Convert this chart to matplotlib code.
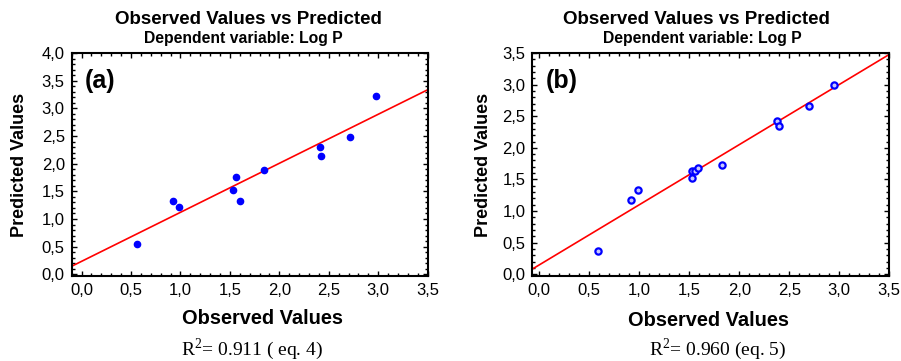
import numpy as np
import matplotlib
matplotlib.use("Agg")
import matplotlib.pyplot as plt
from matplotlib.ticker import MultipleLocator, FuncFormatter

plt.rcParams["font.family"] = ["Liberation Sans", "DejaVu Sans"]
plt.rcParams["mathtext.fontset"] = "custom"
plt.rcParams["mathtext.rm"] = "Liberation Serif"

# panel (a): observed vs predicted, eq. 4
obs_a = [0.56, 0.92, 0.98, 1.53, 1.56, 1.60, 1.84, 2.41, 2.42, 2.71, 2.98]
pred_a = [0.55, 1.33, 1.21, 1.53, 1.76, 1.33, 1.88, 2.31, 2.14, 2.48, 3.23]
fit_a = (0.235, 0.886)  # intercept, slope

# panel (b): observed vs predicted, eq. 5
obs_b = [0.59, 0.92, 0.99, 1.53, 1.53, 1.56, 1.59, 1.83, 2.38, 2.40, 2.70, 2.95]
pred_b = [0.37, 1.18, 1.33, 1.64, 1.52, 1.64, 1.68, 1.73, 2.43, 2.35, 2.66, 3.00]
fit_b = (0.149, 0.951)

panel_tags = ["(a)", "(b)"]
r2_texts = [r"R$^{\mathrm{2}}$= 0.911 ( eq. 4)", r"R$^{\mathrm{2}}$= 0.960 (eq. 5)"]
title = "Observed Values vs Predicted"
subtitle = "Dependent variable: Log P"

W, H = 901, 361
fig = plt.figure(figsize=(W / 100, H / 100), dpi=100)


def px(x, y):
    return x / W, 1 - y / H


def comma_fmt(v, pos):
    return f"{v:.1f}".replace(".", ",")


def make_panel(rect, obs, pred, fit, xlim, ylim, tag, filled):
    ax = fig.add_axes(rect)
    ax.set_xlim(*xlim)
    ax.set_ylim(*ylim)
    xs = np.array(xlim)
    ax.plot(xs, fit[0] + fit[1] * xs, color="#ff0000", lw=1.2, zorder=2)
    if filled:
        ax.plot(obs, pred, "o", ms=4.5, color="#0000ff", mec="#0000ff", zorder=3)
    else:
        ax.plot(obs, pred, "o", ms=4.5, mfc="#c8c8ff", mec="#0000ff", mew=1.6, zorder=3)
    ax.xaxis.set_major_locator(MultipleLocator(0.5))
    ax.yaxis.set_major_locator(MultipleLocator(0.5))
    ax.xaxis.set_minor_locator(MultipleLocator(0.1))
    ax.yaxis.set_minor_locator(MultipleLocator(0.1))
    ax.xaxis.set_major_formatter(FuncFormatter(comma_fmt))
    ax.yaxis.set_major_formatter(FuncFormatter(comma_fmt))
    ax.tick_params(which="both", direction="in", top=True, right=True,
                   labelsize=12, width=1.0)
    ax.tick_params(which="major", length=3.5, pad=5)
    ax.tick_params(which="minor", length=2)
    for s in ax.spines.values():
        s.set_linewidth(1.5)
    ax.text(0.038, 0.875, tag, transform=ax.transAxes, fontsize=18,
            fontweight="bold", va="center", ha="left")
    return ax


make_panel([71.7 / W, 1 - 276 / H, 356 / W, 223 / H], obs_a, pred_a, fit_a,
           (-0.1, 3.5), (-0.03, 4.0), panel_tags[0], True)
make_panel([532.3 / W, 1 - 276 / H, 357 / W, 223 / H], obs_b, pred_b, fit_b,
           (-0.07, 3.5), (-0.027, 3.5), panel_tags[1], False)

# titles
fig.text(*px(248, 19), title, ha="center", va="center", fontsize=13.5, fontweight="bold")
fig.text(*px(243, 39), subtitle, ha="center", va="center", fontsize=11.3, fontweight="bold")
fig.text(*px(696, 19), title, ha="center", va="center", fontsize=13.5, fontweight="bold")
fig.text(*px(702, 39), subtitle, ha="center", va="center", fontsize=11.3, fontweight="bold")

# axis labels
for x in (20, 484):
    fig.text(*px(x, 165), "Predicted Values", ha="center", va="center",
             rotation=90, fontsize=13, fontweight="bold")
fig.text(*px(262.5, 319), "Observed Values", ha="center", va="center",
         fontsize=14.4, fontweight="bold")
fig.text(*px(708, 320), "Observed Values", ha="center", va="center",
         fontsize=14.4, fontweight="bold")

# R^2 notes
fig.text(*px(252, 349), r2_texts[0], ha="center", va="center", fontsize=14,
         family=["Liberation Serif", "DejaVu Serif"])
fig.text(*px(718, 349), r2_texts[1], ha="center", va="center", fontsize=14,
         family=["Liberation Serif", "DejaVu Serif"])

fig.savefig("out.png", dpi=100)
